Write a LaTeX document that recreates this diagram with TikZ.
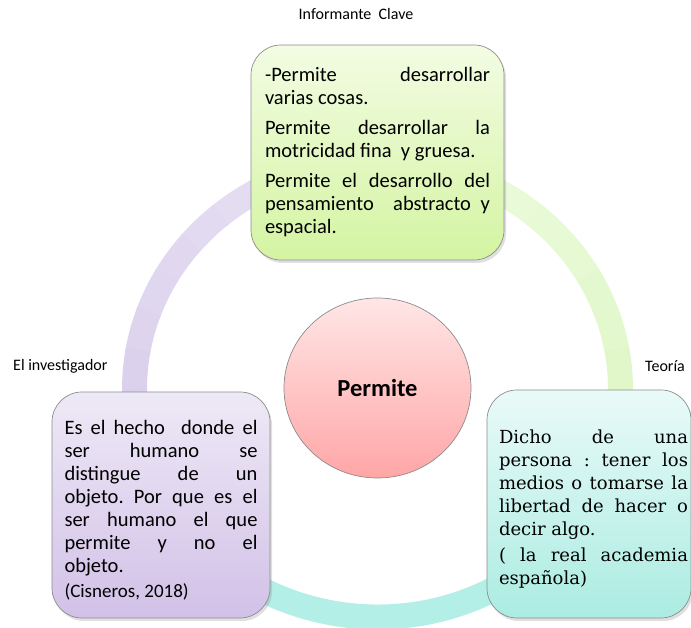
\documentclass[tikz,border=0pt]{standalone}
\usepackage{fontspec}
\setmainfont{Carlito}
\newfontfamily\tealfont{DejaVu Serif}
\usetikzlibrary{shapes.geometric,shadows}
\hyphenpenalty=10000
\exhyphenpenalty=10000
\frenchspacing
\definecolor{gTop}{HTML}{F2FCE3}
\definecolor{gBot}{HTML}{D4F4A2}
\definecolor{pTop}{HTML}{EEE9F6}
\definecolor{pBot}{HTML}{D2C1E8}
\definecolor{tTop}{HTML}{E9FAF8}
\definecolor{tBot}{HTML}{ABECE2}
\definecolor{rTop}{HTML}{FFE6E6}
\definecolor{rBot}{HTML}{FFA6A6}
\definecolor{ringPl}{HTML}{E8E2F4}
\definecolor{ringPd}{HTML}{D8CBEA}
\definecolor{ringGl}{HTML}{EEFBE0}
\definecolor{ringGd}{HTML}{DCF6C2}
\definecolor{ringT}{HTML}{B3EFE6}
\definecolor{edgegray}{HTML}{8C8C8C}
\newcommand{\ind}{\hspace*{9pt}}
\tikzset{
  cyclebox/.style={draw=edgegray, line width=0.7pt, rounded corners=30pt,
    align=justify, inner ysep=0pt, font=\fontsize{20.5}{23}\selectfont,
    drop shadow={shadow xshift=2pt, shadow yshift=-3pt, opacity=0.25}},
  lbl/.style={font=\fontsize{16}{18}\selectfont, inner sep=0pt},
  ringseg/.style={line width=25pt, line cap=butt}
}
\begin{document}
\begin{tikzpicture}[x=1pt,y=1pt]
\useasboundingbox (0,0) rectangle (691,628);
\coordinate (ringc) at (377.5,239);
% ring: purple segment (top -> lower left)
\foreach \i in {0,...,11}{
  \pgfmathtruncatemacro\pct{100*\i/11}
  \pgfmathsetmacro\sa{90+10*\i}
  \pgfmathsetmacro\ea{100.6+10*\i}
  \draw[ringseg, color=ringPd!\pct!ringPl] (ringc) ++(\sa:243 and 228)
    arc[start angle=\sa, end angle=\ea, x radius=243, y radius=228];
}
% green segment (top -> lower right)
\foreach \i in {0,...,11}{
  \pgfmathtruncatemacro\pct{100*\i/11}
  \pgfmathsetmacro\sa{90-10*\i}
  \pgfmathsetmacro\ea{79.4-10*\i}
  \draw[ringseg, color=ringGd!\pct!ringGl] (ringc) ++(\sa:243 and 228)
    arc[start angle=\sa, end angle=\ea, x radius=243, y radius=228];
}
% teal segment (bottom)
\draw[ringseg, color=ringT] (ringc) ++(209:243 and 228)
  arc[start angle=209, end angle=331, x radius=243, y radius=228];

% centre
\node[ellipse, draw=edgegray, line width=0.7pt, top color=rTop, bottom color=rBot,
  minimum width=187pt, minimum height=180pt, inner sep=0pt,
  font=\fontsize{24.5}{28}\selectfont\bfseries] (centre) at (377.5,240) {Permite};

% top box
\node[cyclebox, top color=gTop, bottom color=gBot, text width=225pt,
  inner xsep=14pt, minimum height=215pt] (clave) at (377.5,475.5)
  {-Permite desarrollar\linebreak varias cosas.\par\vspace{7pt}
   Permite desarrollar la\linebreak motricidad fina\ \ y gruesa.\par\vspace{7pt}
   Permite el desarrollo del\linebreak pensamiento\ \ abstracto y\linebreak espacial.};

% left box
\node[cyclebox, top color=pTop, bottom color=pBot, text width=193pt,
  inner xsep=12.5pt, minimum height=226pt] (invest) at (161,123)
  {\rule{0pt}{24pt}Es el hecho\ \ donde el\linebreak ser humano se\linebreak distingue de un\linebreak
   objeto. Por que es el\linebreak ser humano el que\linebreak permite y no el\linebreak
   objeto.\par\vspace{2pt}
   {\fontsize{19}{21}\selectfont (Cisneros, 2018)}};

% right box
\node[cyclebox, top color=tTop, bottom color=tBot, text width=198pt,
  inner xsep=3pt, minimum height=228pt,
  font=\tealfont\fontsize{18}{23}\selectfont] (teoria) at (589,124)
  {\ind\rule{0pt}{24pt}Dicho de una\linebreak \ind persona : tener los\linebreak
   \ind medios o tomarse la\linebreak \ind libertad de hacer o\linebreak
   \ind decir algo.\par\vspace{3pt}
   \ind ( la real academia\linebreak \ind española)};

% labels
\node[lbl] (lclave) at (356,614) {Informante\ \ Clave};
\node[lbl, anchor=west] (linv) at (13,262) {El investigador};
\node[lbl, anchor=west] (lteo) at (645,262) {Teoría};
\end{tikzpicture}
\end{document}
